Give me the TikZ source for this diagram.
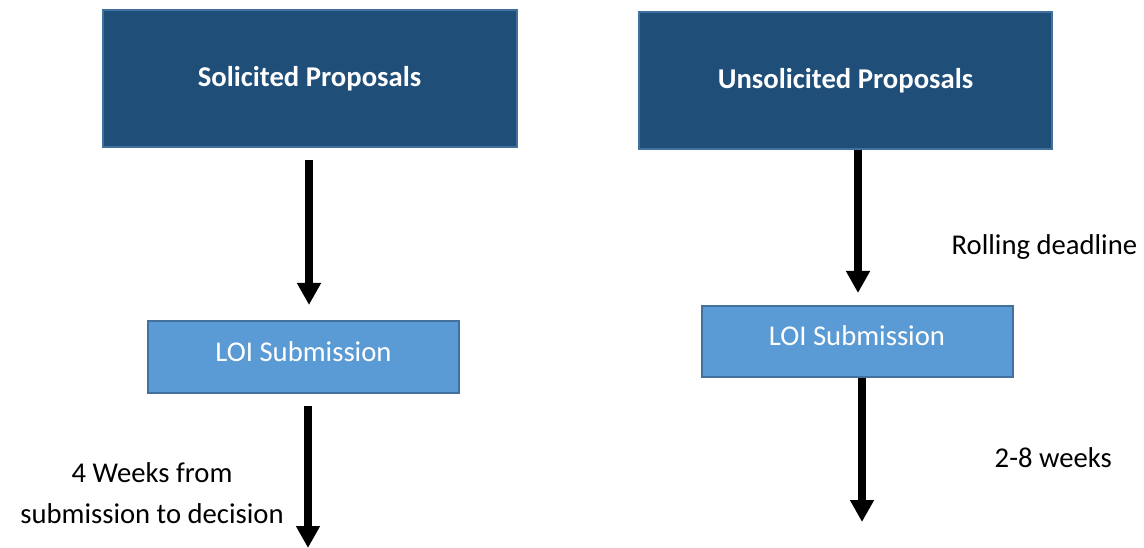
\documentclass[tikz,border=0pt]{standalone}
\usepackage{fontspec}
\setmainfont{Carlito}
\usetikzlibrary{arrows.meta}
\definecolor{darkbox}{RGB}{31,78,121}
\definecolor{darkedge}{RGB}{65,113,156}
\definecolor{lightbox}{RGB}{91,155,213}
\definecolor{lightedge}{RGB}{65,113,156}
\begin{document}
\begin{tikzpicture}[x=0.75pt,y=-0.75pt,
  txt/.style={font=\fontsize{21.5}{27}\selectfont},
  topbox/.style={draw=darkedge,line width=1.5pt,fill=darkbox,text=white,inner sep=0pt,font=\fontsize{21.5}{27}\selectfont\bfseries},
  loibox/.style={draw=lightedge,line width=1.5pt,fill=lightbox,text=white,inner sep=0pt,font=\fontsize{21.5}{27}\selectfont},
  bigarrow/.style={line width=6pt,-{Triangle[width=17pt,length=16.5pt]}}]
\useasboundingbox (0,0) rectangle (1144,548);
\node[topbox,minimum width=310.5pt,minimum height=102.75pt] (sol) at (309.5,78.5) {\raisebox{1.5pt}{Solicited Proposals}};
\node[topbox,minimum width=309.75pt,minimum height=102.75pt] (uns) at (845.5,80.5) {\raisebox{1.5pt}{Unsolicited Proposals}};
\node[loibox,minimum width=233.25pt,minimum height=54pt] (loi1) at (303.5,357) {\raisebox{7.5pt}{LOI Submission}};
\node[loibox,minimum width=233.25pt,minimum height=53.25pt] (loi2) at (857,341.5) {\raisebox{8.5pt}{LOI Submission}};
\coordinate (a1s) at (309,160);
\coordinate (a1e) at (309,305);
\coordinate (a2s) at (308,406);
\coordinate (a2e) at (308,548);
\coordinate (a3e) at (858,293);
\coordinate (a4e) at (862,522);
\draw[bigarrow] (a1s) -- (a1e);
\draw[bigarrow] (a2s) -- (a2e);
\draw[bigarrow] (uns.south -| a3e) -- (a3e);
\draw[bigarrow] (loi2.south -| a4e) -- (a4e);
\node[txt,anchor=west] (roll) at (947,247) {Rolling deadline};
\node[txt,anchor=west] (w28) at (990,458) {2-8 weeks};
\node[txt,align=center,font=\fontsize{21.5}{30.75}\selectfont] (four) at (152,493) {4 Weeks from\\submission to decision};
\end{tikzpicture}
\end{document}
